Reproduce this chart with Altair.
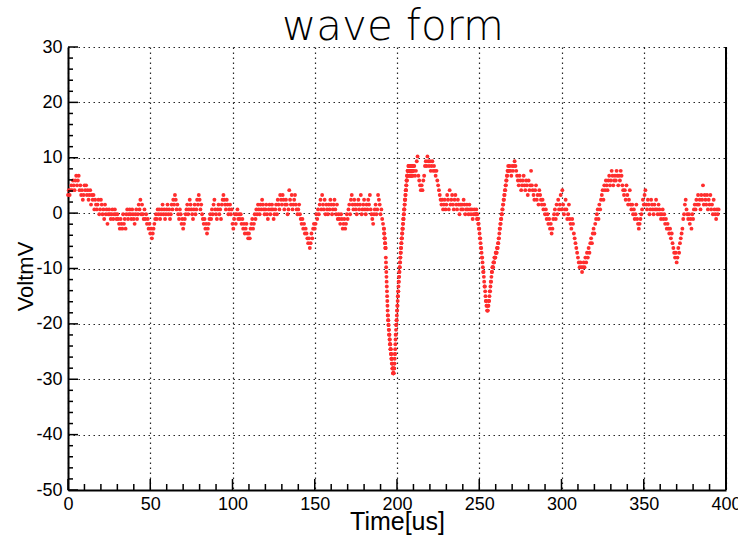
import numpy as np
import pandas as pd
import altair as alt

# ---------------- data (ADC counts) ----------------
ADC_MV_PER_COUNT = 0.87
ADC_BASELINE_MV = -0.2

# 0 - 49.5 us, one sample every 0.5 us
WAVE_000_050 = [
    4, 5, 4, 5, 6, 5, 7, 6, 5, 7,
    8, 6, 7, 8, 5, 6, 4, 5, 3, 4,
    6, 5, 6, 4, 5, 3, 4, 5, 2, 4,
    3, 4, 1, 3, 2, 1, 2, 3, 0, 1,
    3, 2, 0, 1, -1, 2, 0, 1, -2, 0,
    1, 0, -1, 0, 1, -1, 0, 1, 0, -1,
    0, -1, -2, -3, -1, -2, -3, 0, -2, -1,
    -3, 0, 1, -1, 0, 1, 0, -1, 1, 0,
    -1, -2, 0, 1, -1, 0, 2, 1, 3, 0,
    2, 0, -1, 1, -1, 0, -2, -1, -3, -2,
]
# 50 - 99.5 us
WAVE_050_100 = [
    -4, -3, -5, -4, -3, -2, -1, 0, -1, 1,
    0, 1, -1, 0, 1, 2, 0, 1, -1, 0,
    1, 2, 0, 1, -1, 0, 2, 1, 3, 2,
    4, 3, 1, 2, 0, -1, 1, 0, -2, -1,
    -3, -2, -1, 0, 1, 2, 0, 1, 3, 2,
    1, 0, -1, 1, 2, 0, 1, 3, 2, 4,
    3, 1, 2, 0, -1, -2, -1, -3, -2, -4,
    -3, -2, -1, 0, -1, 1, 0, 2, 3, 1,
    0, -1, 1, 2, 0, 1, -1, 2, 3, 4,
    3, 2, 1, 3, 2, 0, 1, 2, 0, 1,
]
# 100 - 149.5 us
WAVE_100_150 = [
    -2, -3, -1, 0, -2, 0, 1, -1, 0, -1,
    0, -2, -1, -3, -2, -4, -3, -2, -4, -5,
    -4, -5, -3, -2, -1, -3, -2, 0, -1, 1,
    0, 2, 1, 0, 2, 1, 3, 2, 1, 0,
    1, 2, 0, -1, 1, 2, 0, 1, 2, 1,
    -1, 0, 1, 2, 0, 3, 2, 1, 4, 3,
    2, 4, 3, 1, 2, 3, 2, 0, 1, 5,
    3, 2, 4, 1, 2, 3, 4, 2, 1, 0,
    1, 2, 0, -1, -2, -1, -3, -2, -4, -3,
    -4, -5, -6, -5, -7, -6, -4, -5, -3, -2,
]
# 150 - 191.5 us
WAVE_150_192 = [
    -3, -2, 0, -1, 1, 0, 2, 3, 1, 4,
    2, 1, 3, 0, 2, 1, 0, 2, 1, 3,
    2, 0, 1, 2, 3, 1, 0, 2, -1, 0,
    -1, -2, 0, -1, -3, -2, -1, -3, -2, 0,
    -1, 1, 2, 0, 3, 4, 2, 1, 3, 2,
    1, 0, 2, 3, 1, 2, 4, 0, 1, 2,
    3, 1, 0, 2, 1, 3, 2, 4, 1, 0,
    -1, -2, 0, 1, 2, 0, 1, 4, 3, 2,
    0, 1, -1, -2,
]
# 192.0 - 209.9 us, one sample every 0.1 us (the deep pulse)
WAVE_192_210 = [
    -3, -3, -4, -4, -5, -5, -5, -6, -6, -7, -7, -7,
    -9, -10, -11, -12, -13, -14, -15, -16, -17, -18, -19, -20, -21,
    -21, -22, -22, -23, -23, -24, -24, -25, -25, -25,
    -26, -26, -27, -27, -27, -28, -28, -28, -29, -29,
    -29, -30, -30, -30, -31, -31, -31, -32, -32, -32,
    -32, -33, -33, -33, -33, -33, -32, -32, -32, -31,
    -31, -30, -29, -29, -28, -27, -26, -25, -25, -24, -23,
    -23, -22, -22, -21, -20, -20, -19, -19, -18, -17,
    -17, -16, -16, -15, -14, -14, -13, -13, -12, -12,
    -11, -11, -10, -10, -9, -9, -8, -8, -7, -7,
    -6, -6, -5, -5, -5, -4, -4, -3, -3, -3, -2,
    -2, -1, -1, -1, 0, 0, 1, 1, 1, 2,
    2, 3, 3, 3, 4, 4, 5, 5, 5, 6,
    6, 7, 7, 7, 8, 8, 8, 9, 9, 8,
    9, 9, 10, 9, 10, 9, 10, 9, 8, 9,
    10, 9, 9, 8, 9, 10, 10, 9, 8, 8, 9, 10,
    9, 9, 8, 9, 10, 10, 9, 8, 9, 9, 10,
]
# 210 - 247.5 us
WAVE_210_248 = [
    9, 10, 8, 9, 11, 12, 8, 7, 6, 5,
    6, 5, 7, 8, 10, 11, 10, 12, 11, 10,
    11, 9, 10, 11, 9, 10, 9, 8, 9, 7,
    6, 5, 4, 3, 2, 3, 1, 2, 3, 1,
    2, 4, 3, 1, 5, 2, 3, 4, 2, 1,
    3, 4, 2, 1, 3, 2, 0, 2, 1, 2,
    1, 3, 2, 0, 1, 2, 1, 0, 2, 1,
    0, 1, -1, 0, 1, 0,
]
# 248.0 - 267.8 us, one sample every 0.2 us (second pulse)
WAVE_248_268 = [
    0, 1, 0, -1, 0, -1,
    -1, -2, -2, -3, -3, -4, -5, -5, -6, -7, -7, -8, -9,
    -9, -10, -11, -12, -12, -13, -14, -15, -15, -16, -17, -18,
    -18, -19, -19, -20, -20, -20, -19, -19, -18, -18,
    -17, -16, -16, -15, -14, -14, -13, -12, -12, -11, -11,
    -11, -10, -10, -10, -9, -9, -9, -9, -8, -8, -8, -8, -7, -7, -7,
    -6, -6, -5, -5, -4, -3, -3, -2, -2, -1, -1,
    0, 0, 1,
    1, 2, 2, 3, 3, 4, 4, 5, 5, 6, 6, 7, 7, 8, 8, 9, 9, 10, 9,
]
# 268 - 317.5 us
WAVE_268_318 = [
    9, 10, 9, 8, 10, 9, 10, 11, 10, 9,
    8, 7, 6, 8, 7, 5, 6, 7, 8, 6,
    5, 7, 6, 4, 7, 5, 6, 9, 6, 5,
    4, 3, 5, 6, 3, 4, 2, 5, 4, 3,
    2, 3, 1, 2, 0, 1, -1, 0, -2, -1,
    -3, -2, -4, -3, -1, 0, 1, -1, 2, 0,
    3, 1, 2, 4, 1, 5, 2, 0, 1, 3,
    1, -1, 0, 2, -1, -2, -3, -1, -2, -4,
    -5, -6, -7, -8, -9, -10, -11, -10, -11, -12,
    -11, -10, -11, -9, -10, -8, -9, -7, -8, -6,
]
# 318 - 367.5 us
WAVE_318_368 = [
    -5, -6, -4, -3, -4, -2, -1, 0, 1, -1,
    2, 1, 3, 4, 5, 3, 6, 5, 7, 6,
    5, 7, 8, 6, 7, 9, 8, 6, 7, 8,
    7, 9, 8, 6, 8, 7, 9, 8, 6, 5,
    4, 5, 3, 6, 4, 2, 3, 5, 2, 1,
    2, 0, 1, -1, 0, 2, -1, -2, -3, -2,
    -1, 0, 1, 3, 2, 4, 5, 2, 1, 3,
    2, 0, 1, 3, 2, 1, 0, 2, 1, 3,
    1, 0, 2, 1, 0, -1, 0, 1, -1, 0,
    -2, -1, -3, -2, -3, -4, -3, -5, -4, -6,
]
# 368 - 395.5 us
WAVE_368_396 = [
    -7, -8, -9, -8, -10, -9, -7, -8, -6, -5,
    -4, -3, -1, 0, 2, 3, 1, 0, -1, 0,
    -2, -1, -3, 0, -1, 1, 2, 1, 3, 2,
    4, 2, 3, 1, 4, 3, 6, 2, 4, 3,
    2, 4, 1, 3, 2, 4, 1, 2, 0, 3,
    1, 0, -1, 1, 0, 1,
]

# (start time [us], sample period [us], counts)
SEGMENTS = [
    (0.0, 0.5, WAVE_000_050),
    (50.0, 0.5, WAVE_050_100),
    (100.0, 0.5, WAVE_100_150),
    (150.0, 0.5, WAVE_150_192),
    (192.0, 0.1, WAVE_192_210),
    (210.0, 0.5, WAVE_210_248),
    (248.0, 0.2, WAVE_248_268),
    (268.0, 0.5, WAVE_268_318),
    (318.0, 0.5, WAVE_318_368),
    (368.0, 0.5, WAVE_368_396),
]

TITLE = "wave form"
X_TITLE = "Time[us]"
Y_TITLE = "VoltmV"
X_MAJOR = [0, 50, 100, 150, 200, 250, 300, 350, 400]
X_MINOR = [v for v in range(0, 401, 10) if v % 50 != 0]
Y_MAJOR = [-50, -40, -30, -20, -10, 0, 10, 20, 30]
Y_MINOR = [v for v in range(-50, 31, 2) if v % 10 != 0]


def segment(t0, dt, counts):
    n = len(counts)
    return pd.DataFrame({
        "t": t0 + dt * np.arange(n),
        "v": np.asarray(counts, dtype=float) * ADC_MV_PER_COUNT + ADC_BASELINE_MV,
    })


df = pd.concat([segment(*s) for s in SEGMENTS], ignore_index=True)

# ---------------- chart ----------------
W, H = 658, 443
RED = "#ff2d2d"
FONT = "Liberation Sans"

xs = alt.Scale(domain=[0, 400], nice=False, zero=False)
ys = alt.Scale(domain=[-50, 30], nice=False, zero=False)

common = dict(
    grid=True, ticks=False, tickSize=0,
    labelFont=FONT, labelFontSize=18, labelColor="#000",
    labelFlush=False, labelOverlap=False, labelExpr="'' + datum.value",
    domainColor="#000", domainWidth=2,
    gridColor="#000", gridDash=[1.5, 3.5], gridOpacity=0.85, gridWidth=1.2,
    titleFont=FONT, titleFontWeight="normal", titleColor="#000",
)
x_axis = alt.Axis(
    values=X_MAJOR, title=X_TITLE, labelPadding=5,
    titleFontSize=25, titleBaseline="alphabetic", titleY=39, **common,
)
y_axis = alt.Axis(
    values=Y_MAJOR, title=Y_TITLE, labelPadding=6,
    titleFontSize=22, titleAngle=-90, titleAlign="center", titleBaseline="middle",
    titleX=-43, titleY=229, **common,
)

points = alt.Chart(df).mark_circle(size=15, color=RED, opacity=1).encode(
    x=alt.X("t:Q", scale=xs, axis=x_axis),
    y=alt.Y("v:Q", scale=ys, axis=y_axis),
)

xmaj = alt.Chart(pd.DataFrame({"t": X_MAJOR})).mark_rule(color="#000", strokeWidth=1.5).encode(
    x=alt.X("t:Q", scale=xs), y=alt.value(H), y2=alt.value(H - 11))
xmin = alt.Chart(pd.DataFrame({"t": X_MINOR})).mark_rule(color="#000", strokeWidth=1.5).encode(
    x=alt.X("t:Q", scale=xs), y=alt.value(H), y2=alt.value(H - 6))
ymaj = alt.Chart(pd.DataFrame({"v": Y_MAJOR})).mark_rule(color="#000", strokeWidth=1.5).encode(
    y=alt.Y("v:Q", scale=ys), x=alt.value(0), x2=alt.value(10))
ymin = alt.Chart(pd.DataFrame({"v": Y_MINOR})).mark_rule(color="#000", strokeWidth=1.5).encode(
    y=alt.Y("v:Q", scale=ys), x=alt.value(0), x2=alt.value(5))

# right side of the frame
right_edge = alt.Chart(pd.DataFrame({"t": [400]})).mark_rule(color="#000", strokeWidth=2).encode(
    x=alt.X("t:Q", scale=xs), y=alt.value(0), y2=alt.value(H))

title = alt.Chart(pd.DataFrame({"label": [TITLE]})).mark_text(
    font="DejaVu Sans", fontSize=42, fontWeight=300, color="#000",
    align="center", baseline="alphabetic",
).encode(text="label:N", x=alt.value(W / 2 - 4), y=alt.value(-7))

chart = alt.layer(points, xmaj, xmin, ymaj, ymin, right_edge, title).properties(
    width=W, height=H,
    padding={"left": 68, "top": 47, "right": 12, "bottom": 46},
    autosize=alt.AutoSizeParams(type="none"),
    background="#ffffff",
).configure_view(stroke=None)

chart.save("out.html", embed_options={"renderer": "svg", "actions": False})
